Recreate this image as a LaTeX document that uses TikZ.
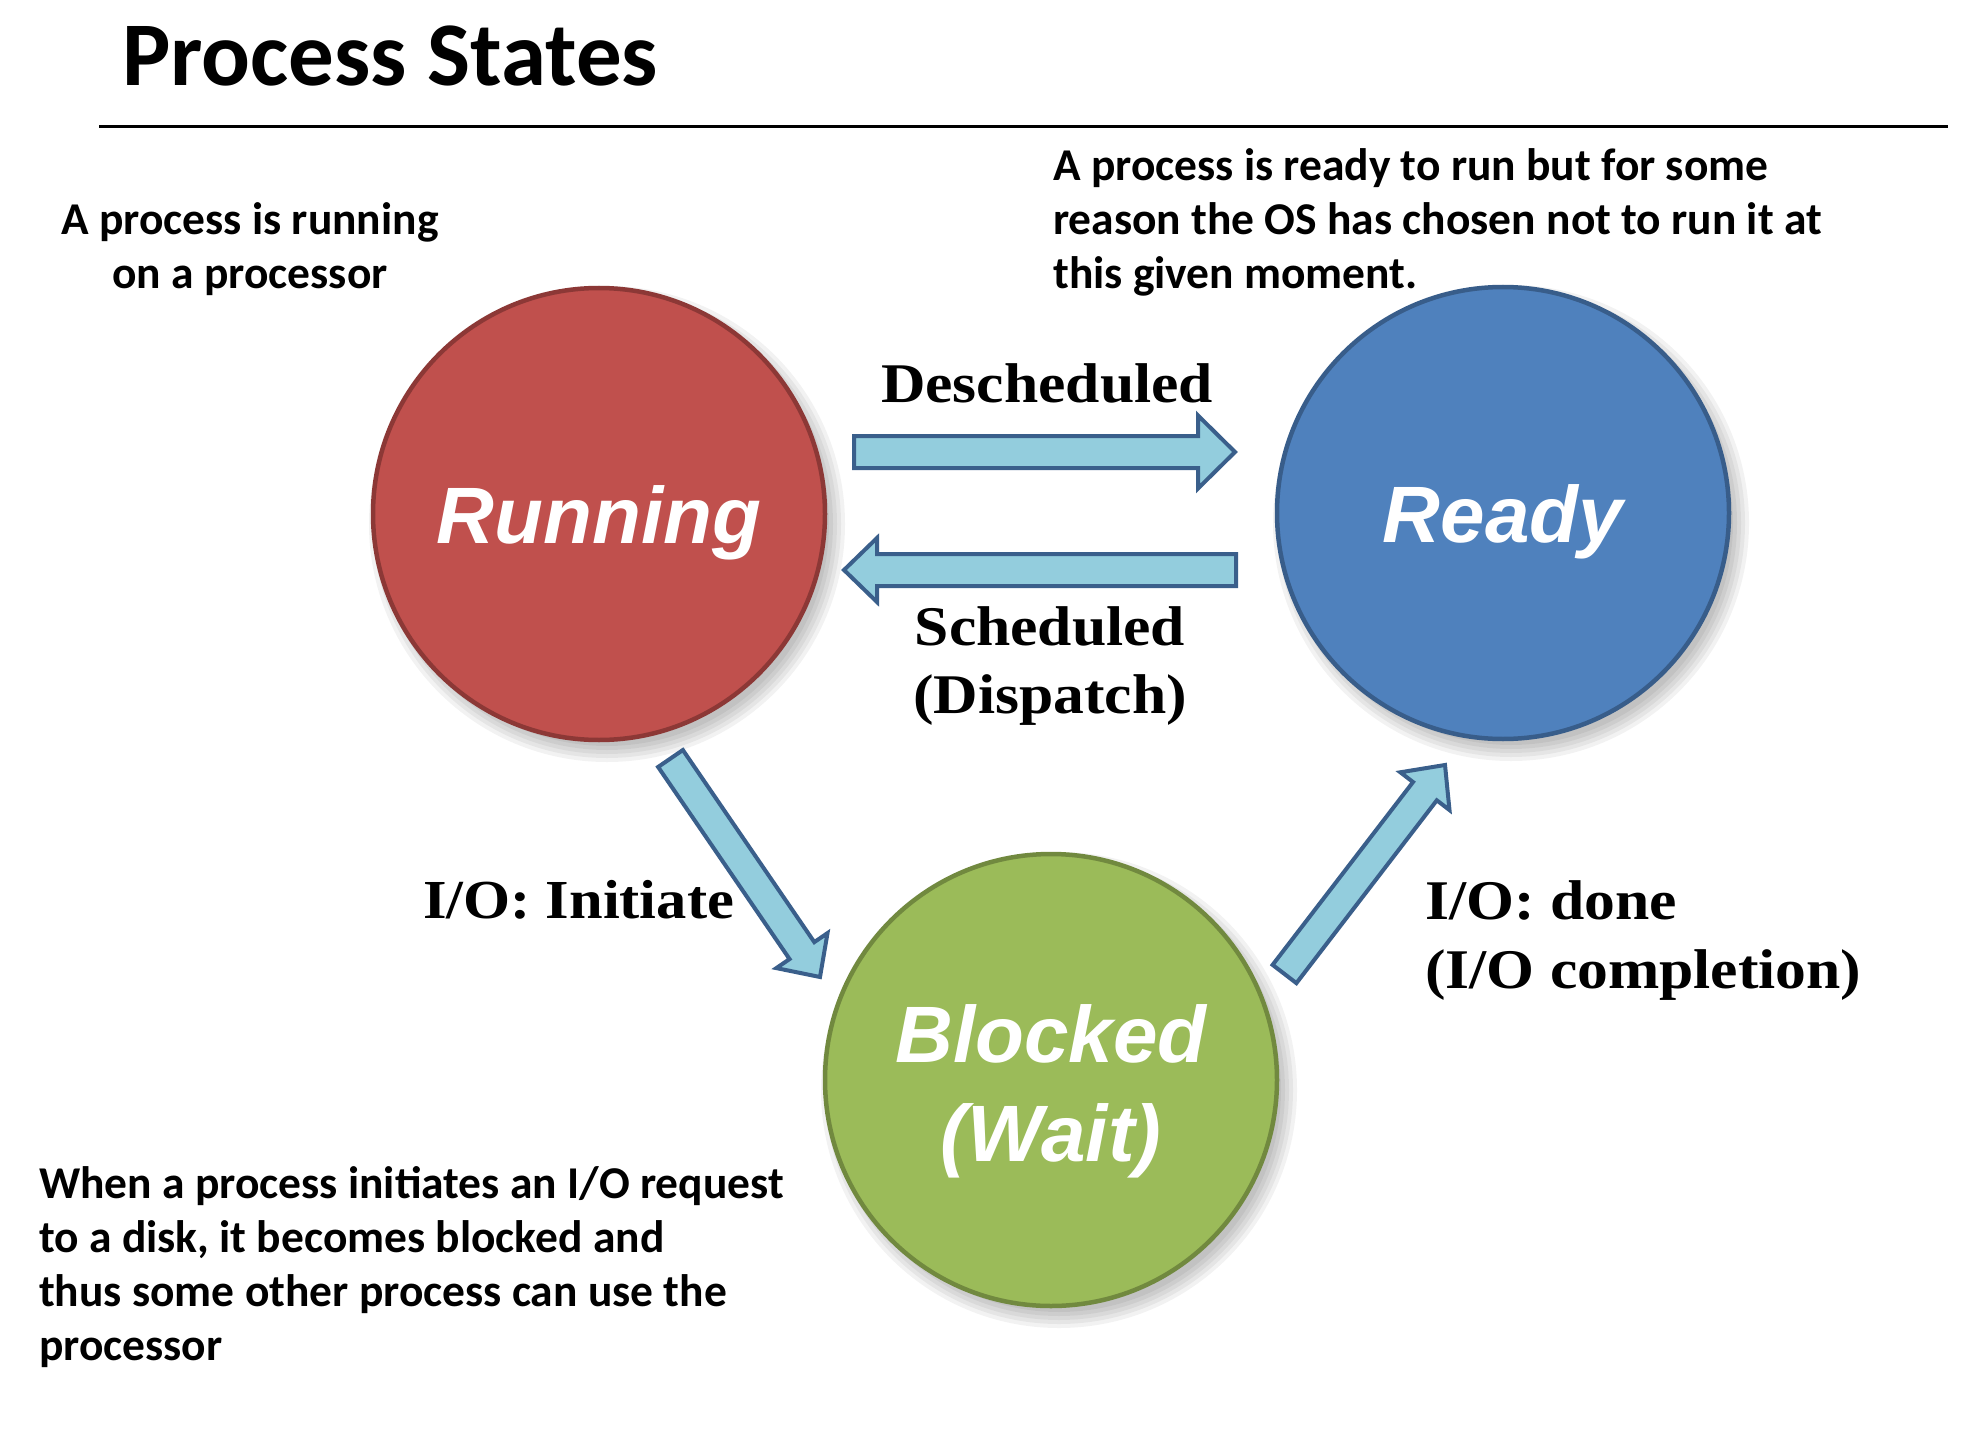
\documentclass[tikz,border=0pt]{standalone}
\usepackage{fontspec}
\newfontfamily\calibri{Carlito}
\newfontfamily\arialf{Liberation Sans}
\newfontfamily\cambriaf[FakeStretch=1.1]{Liberation Serif}
\usetikzlibrary{calc}
\definecolor{runfill}{HTML}{C0504D}
\definecolor{rundraw}{HTML}{8C3836}
\definecolor{readyfill}{HTML}{4F81BD}
\definecolor{readydraw}{HTML}{385D8A}
\definecolor{blkfill}{HTML}{9BBB59}
\definecolor{blkdraw}{HTML}{71893F}
\definecolor{arrowfill}{HTML}{93CDDD}
\definecolor{arrowdraw}{HTML}{3A5F8B}
\tikzset{
  state/.style={circle, inner sep=0pt, minimum size=452pt, line width=4.5pt},
  statelbl/.style={text=white, font=\arialf\bfseries\itshape\fontsize{80}{99}\selectfont, inner sep=0pt, align=center},
  note/.style={font=\calibri\bfseries\fontsize{45.5}{54}\selectfont, inner sep=0pt},
  trans/.style={font=\cambriaf\bfseries\fontsize{56}{68}\selectfont, inner sep=0pt},
  barrow/.style={fill=arrowfill, draw=arrowdraw, line width=4pt, line join=miter},
  shadowc/.style={fill=black, opacity=0.05}
}
% #1 tail, #2 tip, #3 half body, #4 half head, #5 head length, #6 name
\newcommand\blockarrow[6]{%
  \coordinate (#6-hb) at ($(#2)!#5!(#1)$);
  \draw[barrow] ($(#1)!#3!90:(#2)$) -- ($(#6-hb)!#3!90:(#2)$) -- ($(#6-hb)!#4!90:(#2)$) -- (#2)
     -- ($(#6-hb)!#4!-90:(#2)$) -- ($(#6-hb)!#3!-90:(#2)$) -- ($(#1)!#3!-90:(#2)$) -- cycle;
}
\begin{document}
\begin{tikzpicture}[x=1pt,y=-1pt]
\useasboundingbox[fill=white] (0,0) rectangle (1986,1439);
% title
\node[font=\calibri\bfseries\fontsize{91}{98}\selectfont, inner sep=0pt, anchor=base west] (title) at (122,86) {Process States};
\coordinate (ruleL) at (99,127);
\coordinate (ruleR) at (1948,127);
\draw[line width=3pt] (ruleL) -- (ruleR);
% centres
\coordinate (runc) at (599,514);
\coordinate (readyc) at (1503,513);
\coordinate (blkc) at (1051,1080);
% soft shadows
\foreach \c in {runc,readyc,blkc}{
  \foreach \r in {222,226,230,234,238}{
    \fill[shadowc] ($(\c)+(8,10)$) circle (\r);
  }
}
% states
\node[state, fill=runfill, draw=rundraw] (run) at (runc) {};
\node[state, fill=readyfill, draw=readydraw] (ready) at (readyc) {};
\node[state, fill=blkfill, draw=blkdraw] (blk) at (blkc) {};
\node[statelbl, anchor=base] (runlbl) at ([yshift=-29pt]run.center) {Running};
\node[statelbl, anchor=base] (readylbl) at ([yshift=-29pt]ready.center) {Ready};
\node[statelbl, anchor=base] (blklbl) at ([yshift=-81pt]blk.center) {Blocked\\(Wait)};
% arrows
\coordinate (a1t) at (854,452);  \coordinate (a1h) at (1235,452);
\coordinate (a2t) at (1236,570); \coordinate (a2h) at (844,570);
\coordinate (a3t) at (670.5,758.5); \coordinate (a3h) at (820,977);
\coordinate (a4t) at (1284.5,974); \coordinate (a4h) at (1445,765);
\blockarrow{a1t}{a1h}{16pt}{36.5pt}{37pt}{desch}
\blockarrow{a2t}{a2h}{16pt}{32pt}{33pt}{sched}
\blockarrow{a3t}{a3h}{15pt}{31pt}{32pt}{ioinit}
\blockarrow{a4t}{a4h}{15pt}{31pt}{33pt}{iodone}
% transition labels (multi-line nodes: base = last line)
\node[trans, anchor=base] (deschl) at (1047,402) {Descheduled};
\node[trans, anchor=base, align=center] (schedl) at (1050,713) {Scheduled\\(Dispatch)};
\node[trans, anchor=base west, font=\cambriaf\bfseries\fontsize{55}{68}\selectfont] (ioinitl) at (423,918) {I/O: Initiate};
\node[trans, anchor=base west, align=left, font=\cambriaf\bfseries\fontsize{56}{69}\selectfont] (iodonel) at (1425,988) {I/O: done\\(I/O completion)};
% notes
\node[note, anchor=base, align=center] (runnote) at (250,288) {A process is running\\on a processor};
\node[note, anchor=base west, align=left] (readynote) at (1053,289) {A process is ready to run but for some\\reason the OS has chosen not to run it at\\this given moment.};
\node[note, anchor=base west, align=left] (blknote) at (39,1360) {When a process initiates an I/O request\\to a disk, it becomes blocked and\\thus some other process can use the\\processor};
\end{tikzpicture}
\end{document}
